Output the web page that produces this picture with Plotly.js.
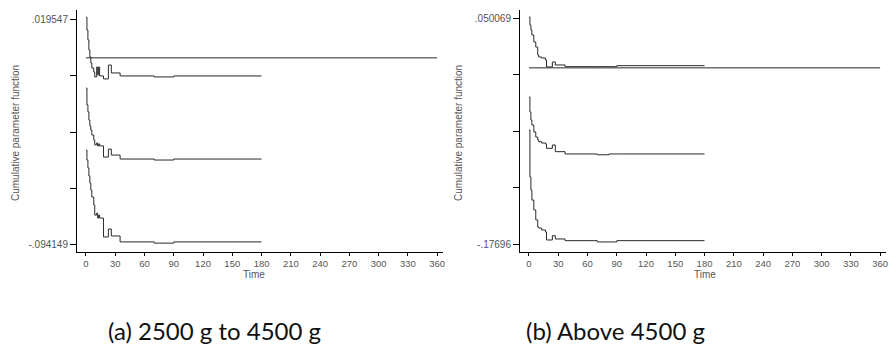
<!DOCTYPE html>
<html><head><meta charset="utf-8">
<script src="https://cdn.plot.ly/plotly-3.0.1.min.js"></script>
<style>html,body{margin:0;padding:0;background:#fff}#chart{width:889px;height:360px}</style>
</head><body><div id="chart"></div>
<script>
// Panel (a): 2500 g to 4500 g
const timeA = [0,1,2,3,4,5,6,8,9,11,12,13,14,18,23,26,35,70,90,180];
const upperA = [0.0205,0.0140,0.0090,0.0040,0.0004,-0.0026,-0.0051,-0.0071,-0.0096,-0.0046,-0.0086,-0.0046,-0.0091,-0.0106,-0.0036,-0.0076,-0.0091,-0.0096,-0.0091,-0.0091];
const estA = [-0.0152,-0.0237,-0.0272,-0.0313,-0.0343,-0.0363,-0.0388,-0.0413,-0.0438,-0.0428,-0.0443,-0.0433,-0.0443,-0.0499,-0.0459,-0.0489,-0.0509,-0.0514,-0.0509,-0.0509];
const lowerA = [-0.0464,-0.0514,-0.0554,-0.0594,-0.0630,-0.0665,-0.0700,-0.0740,-0.0791,-0.0781,-0.0806,-0.0791,-0.0806,-0.0901,-0.0861,-0.0896,-0.0926,-0.0932,-0.0926,-0.0926];
const yTicksA = [0.019547,-0.008877,-0.037301,-0.065725,-0.094149];
const yTickTextA = ['.019547','','','','-.094149'];

// Panel (b): Above 4500 g
const timeB = [0,1,2,3,5,7,9,10,13,17,18,24,27,37,70,82,90,180];
const upperB = [0.0511,0.0430,0.0380,0.0330,0.0260,0.0209,0.0129,0.0109,0.0099,0.0079,0.0009,0.0059,0.0029,0.0012,0.0012,0.0012,0.0022,0.0022];
const estB = [-0.0293,-0.0444,-0.0524,-0.0574,-0.0644,-0.0695,-0.0725,-0.0742,-0.0755,-0.0765,-0.0808,-0.0775,-0.0842,-0.0865,-0.0873,-0.0865,-0.0865,-0.0865];
const lowerB = [-0.0624,-0.1097,-0.1227,-0.1328,-0.1428,-0.1528,-0.1599,-0.1609,-0.1629,-0.1649,-0.1729,-0.1686,-0.1719,-0.1736,-0.1749,-0.1749,-0.1736,-0.1736];
const yTicksB = [0.050069,-0.006688,-0.063446,-0.120203,-0.17696];
const yTickTextB = ['.050069','','','','-.17696'];

// Zero reference line (both panels)
const zeroX = [0,360];
const zeroY = [0,0];

const xTicks = [0,30,60,90,120,150,180,210,240,270,300,330,360];
const captions = ['(a) 2500 g to 4500 g','(b) Above 4500 g'];
const xLabel = 'Time';
const yLabel = 'Cumulative parameter function';

const lineStyle = {color:'#2a2a2a', width:1, shape:'hv'};
function tr(x,y,xa,ya){return {x:x,y:y,xaxis:xa,yaxis:ya,type:'scatter',mode:'lines',line:lineStyle,hoverinfo:'skip'};}

const data = [
  tr(zeroX,zeroY,'x','y'), tr(timeA,upperA,'x','y'), tr(timeA,estA,'x','y'), tr(timeA,lowerA,'x','y'),
  tr(zeroX,zeroY,'x2','y2'), tr(timeB,upperB,'x2','y2'), tr(timeB,estB,'x2','y2'), tr(timeB,lowerB,'x2','y2')
];

const smallFont = {family:'Liberation Sans, Arial, sans-serif', size:10, color:'#555'};
const xTickFont = {family:'Liberation Sans, Arial, sans-serif', size:9.5, color:'#555'};
function xax(dom, anchor){return {domain:dom, anchor:anchor, range:[-9.2,366], tickvals:xTicks, ticks:'outside', ticklen:3, tickcolor:'#000', showline:true, linecolor:'#000', linewidth:1, showgrid:false, zeroline:false, tickfont:xTickFont, ticklabeloverflow:'allow'};}
function yax(rng, tv, tt, anchor){return {domain:[0.3,0.9722], anchor:anchor, range:rng, tickvals:tv, ticktext:tt, ticks:'outside', ticklen:6, tickcolor:'#000', showline:true, linecolor:'#000', linewidth:1, showgrid:false, zeroline:false, tickfont:smallFont};}

function ann(text, px, py, font, angle){return {text:text, xref:'paper', yref:'paper', x:px/889, y:1-py/360, xanchor:'center', yanchor:'middle', showarrow:false, textangle:angle||0, font:font};}

const layout = {
  width:889, height:360, margin:{l:0,r:0,t:0,b:0}, showlegend:false,
  paper_bgcolor:'#fff', plot_bgcolor:'#fff',
  xaxis: xax([0.0866,0.4983],'y'),
  yaxis: yax([-0.09767,0.024075], yTicksA, yTickTextA, 'x'),
  xaxis2: xax([0.5849,0.9966],'y2'),
  yaxis2: yax([-0.18498,0.05810], yTicksB, yTickTextB, 'x2'),
  annotations:[
    ann(xLabel, 254, 274, smallFont),
    ann(xLabel, 705, 274, smallFont),
    ann(yLabel, 15, 133, smallFont, -90),
    ann(yLabel, 458, 133, smallFont, -90),
    ann(captions[0], 214, 330, {family:'Lato, sans-serif', size:24, color:'#111'}),
    ann(captions[1], 615, 330, {family:'Lato, sans-serif', size:24, color:'#111'})
  ]
};
Plotly.newPlot('chart', data, layout, {staticPlot:true, displayModeBar:false});
</script></body></html>
